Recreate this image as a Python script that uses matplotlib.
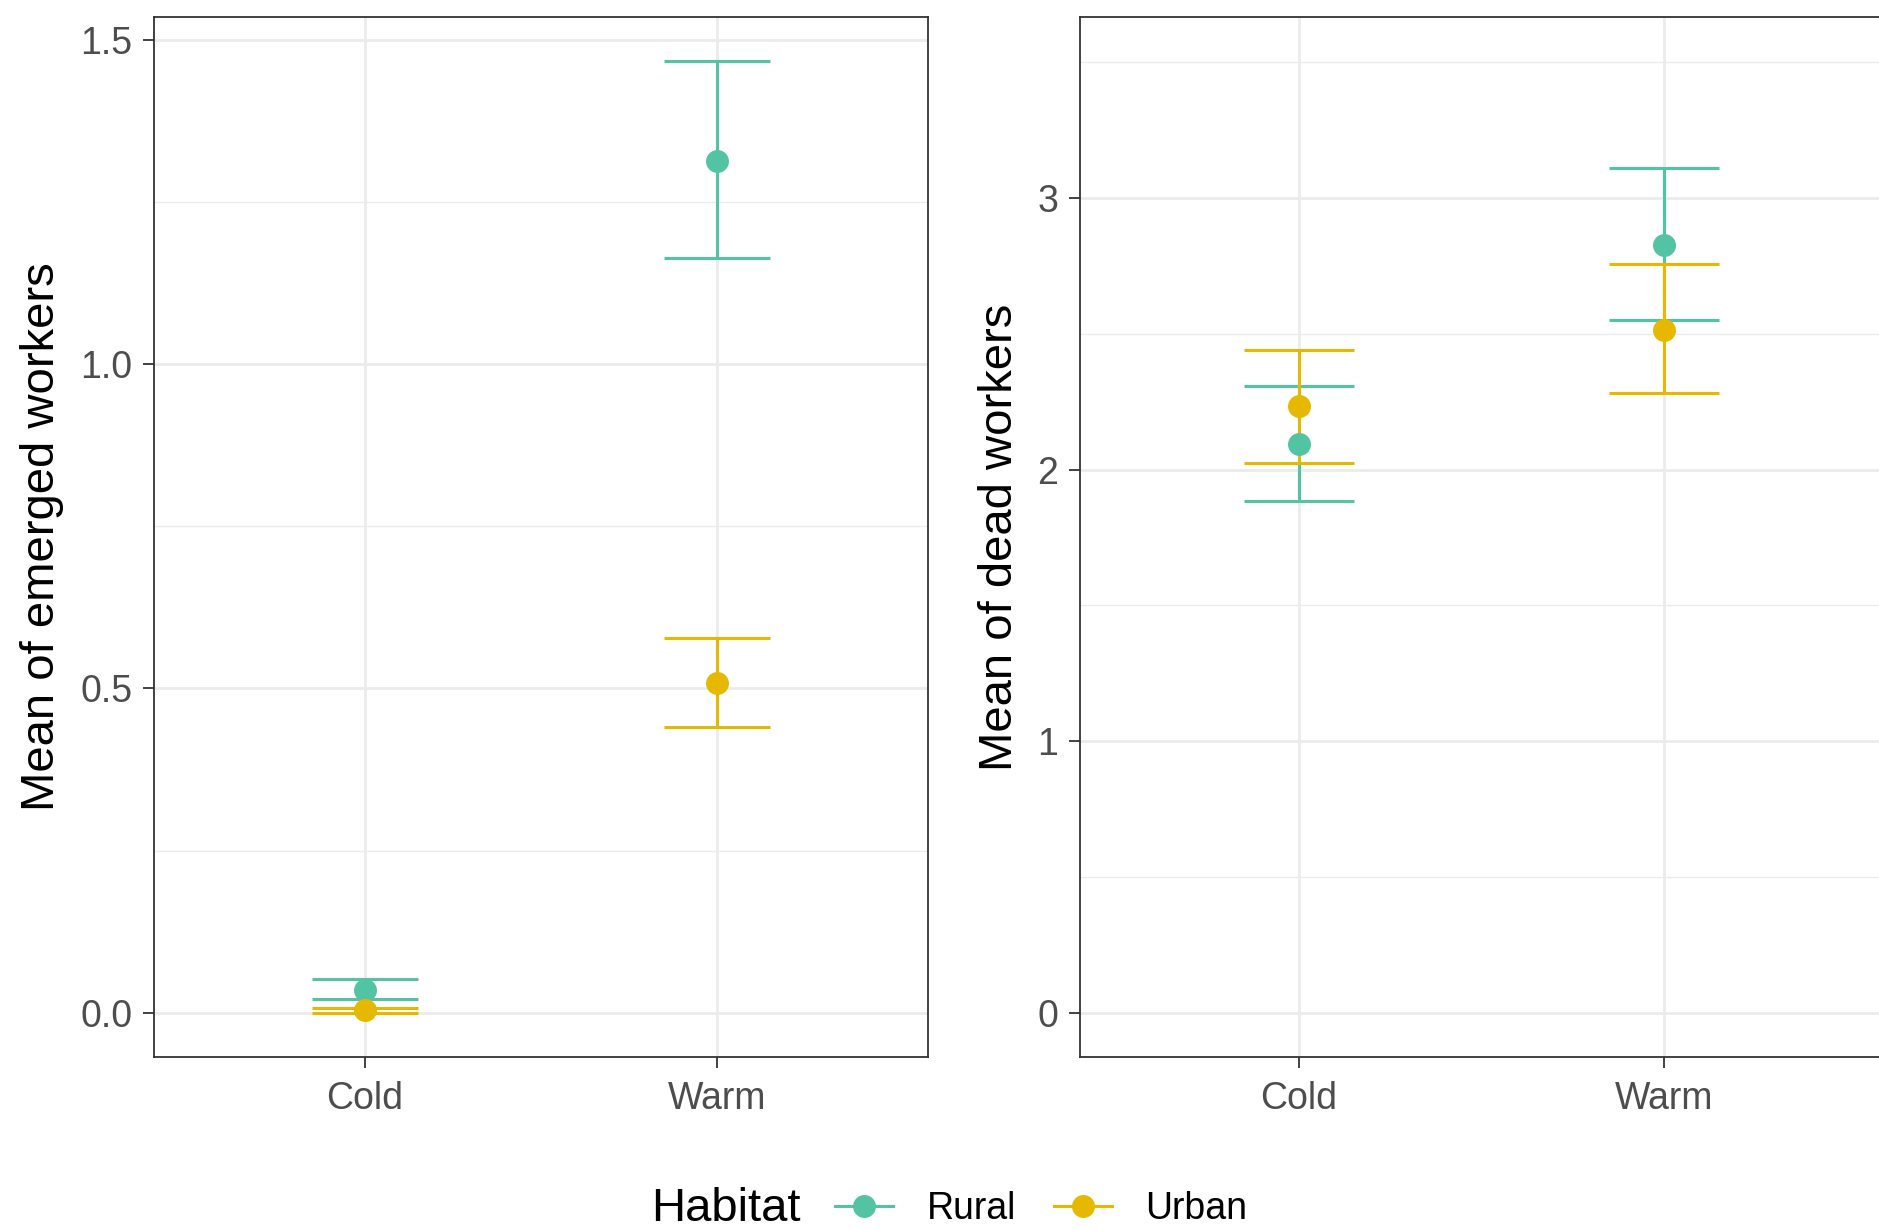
import matplotlib.pyplot as plt
from matplotlib.lines import Line2D

plt.rcParams['font.family'] = ['Liberation Sans', 'DejaVu Sans']

temps = ['Cold', 'Warm']
habitats = ['Rural', 'Urban']
colors = ['#52C4A3', '#E7B800']

# mean of emerged workers (mean, lower, upper) per habitat
rural_emerged = [0.035, 1.313]
rural_emerged_lo = [0.022, 1.164]
rural_emerged_hi = [0.052, 1.467]
urban_emerged = [0.004, 0.508]
urban_emerged_lo = [0.0, 0.440]
urban_emerged_hi = [0.008, 0.578]

# mean of dead workers
rural_dead = [2.095, 2.828]
rural_dead_lo = [1.884, 2.550]
rural_dead_hi = [2.307, 3.110]
urban_dead = [2.232, 2.514]
urban_dead_lo = [2.025, 2.281]
urban_dead_hi = [2.439, 2.757]

W, H = 1879, 1230
fig = plt.figure(figsize=(W / 100, H / 100), dpi=100)

ax1 = fig.add_axes([154 / W, 1 - 1057 / H, 774 / W, 1040 / H])
ax2 = fig.add_axes([1080 / W, 1 - 1057 / H, 803 / W, 1040 / H])


def draw_panel(ax, series, ylim, yticks, minor, ylabel, labelx):
    x = [1, 2]
    for (mean, lo, hi), col in zip(series, colors):
        ax.vlines(x, lo, hi, color=col, lw=2.2, zorder=3)
        ax.hlines(lo, [v - 0.15 for v in x], [v + 0.15 for v in x], color=col, lw=2.2, zorder=3)
        ax.hlines(hi, [v - 0.15 for v in x], [v + 0.15 for v in x], color=col, lw=2.2, zorder=3)
        ax.plot(x, mean, 'o', color=col, ms=15.5, zorder=4)
    ax.set_xlim(0.4, 2.6)
    ax.set_ylim(*ylim)
    ax.set_xticks(x)
    ax.set_xticklabels(temps)
    ax.set_yticks(yticks)
    ax.set_yticks(minor, minor=True)
    ax.grid(True, which='major', color='#EBEBEB', lw=2.0, zorder=0)
    ax.grid(True, which='minor', axis='y', color='#EBEBEB', lw=1.0, zorder=0)
    ax.set_axisbelow(True)
    ax.tick_params(which='major', length=8, width=1.3, color='#333333',
                   labelsize=27, labelcolor='#4D4D4D')
    ax.tick_params(axis='x', pad=9)
    ax.tick_params(axis='y', pad=7.5)
    ax.tick_params(which='minor', length=0)
    for s in ax.spines.values():
        s.set_color('#333333')
        s.set_linewidth(1.3)
    ax.set_ylabel(ylabel, fontsize=34, color='black')
    ax.yaxis.set_label_coords(labelx, 0.5)


draw_panel(ax1,
           [(rural_emerged, rural_emerged_lo, rural_emerged_hi),
            (urban_emerged, urban_emerged_lo, urban_emerged_hi)],
           (-0.068, 1.535), [0.0, 0.5, 1.0, 1.5], [0.25, 0.75, 1.25],
           'Mean of emerged workers', -0.1165)
ax1.set_yticklabels(['0.0', '0.5', '1.0', '1.5'])

draw_panel(ax2,
           [(rural_dead, rural_dead_lo, rural_dead_hi),
            (urban_dead, urban_dead_lo, urban_dead_hi)],
           (-0.163, 3.666), [0, 1, 2, 3], [0.5, 1.5, 2.5, 3.5],
           'Mean of dead workers', -0.072)

# legend along the bottom, title to the left
fig.text(651 / W, 1 - 1209 / H, 'Habitat', fontsize=34, ha='left', va='center')
handles = [Line2D([0], [0], color=c, lw=2.2, marker='o', ms=15.5) for c in colors]
fig.legend(handles, habitats, loc='center left', bbox_to_anchor=(835 / W, 1 - 1209 / H),
           ncol=2, frameon=False, fontsize=27, handlelength=1.55, handletextpad=0.9,
           columnspacing=1.0, borderpad=0, borderaxespad=0)

fig.savefig('out.png', dpi=100, facecolor='white')
